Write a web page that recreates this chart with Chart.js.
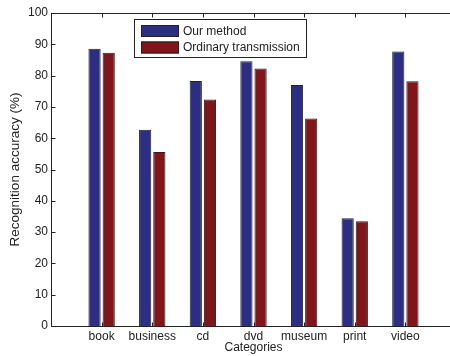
<!DOCTYPE html>
<html lang="en">

<head>
    <meta charset="UTF-8">
    <title>Recognition accuracy</title>
    <script src="https://cdn.jsdelivr.net/npm/chart.js"></script>
    <style>
        html, body { margin: 0; padding: 0; background: #fff; overflow: hidden; }
        #wrap { width: 450px; height: 356px; overflow: hidden; }
    </style>
</head>

<body>
    <div id="wrap">
        <!-- el eje derecho queda justo fuera del borde, como en la figura -->
        <canvas id="grafica" width="456" height="356"></canvas>
    </div>

    <script>
        // datos
        const categorias = ['book', 'business', 'cd', 'dvd', 'museum', 'print', 'video'];
        const nuestroMetodo = [88.6, 62.7, 78.3, 84.6, 77.0, 34.4, 87.7];
        const transmisionOrdinaria = [87.3, 55.6, 72.4, 82.3, 66.3, 33.5, 78.2];
        const ticksY = [0, 10, 20, 30, 40, 50, 60, 70, 80, 90, 100];

        const colorAzul = '#2b2e82';
        const colorRojo = '#80151a';
        const colorEje = '#222222';
        const fuente = "'Liberation Sans', Arial, sans-serif";

        // huecos vacios a los lados como en la figura original
        const etiquetas = [''].concat(categorias, ['']);

        // marco con ticks hacia dentro y leyenda dentro del area
        const marcoPlugin = {
            id: 'marco',
            afterDraw(chart) {
                const ctx = chart.ctx;
                const a = chart.chartArea;
                const x = chart.scales.x;
                const y = chart.scales.y;
                const L = Math.round(a.left) + 0.5, R = Math.round(a.right) - 0.5;
                const T = Math.round(a.top) + 0.5, B = Math.round(a.bottom) + 0.5;
                ctx.save();
                ctx.strokeStyle = colorEje;
                ctx.lineWidth = 1;
                ctx.strokeRect(L, T, R - L, B - T);
                ctx.beginPath();
                ticksY.forEach(v => {
                    const py = Math.round(y.getPixelForValue(v)) + 0.5;
                    ctx.moveTo(L, py); ctx.lineTo(L + 4, py);
                    ctx.moveTo(R, py); ctx.lineTo(R - 4, py);
                });
                categorias.forEach((c, i) => {
                    const px = Math.round(x.getPixelForValue(i + 1)) + 0.5;
                    ctx.moveTo(px, T); ctx.lineTo(px, T + 4);
                    ctx.moveTo(px, B); ctx.lineTo(px, B - 4);
                });
                ctx.stroke();

                // leyenda
                const lx = 134.5, ly = 19.5, lw = 172, lh = 38;
                ctx.fillStyle = '#fff';
                ctx.fillRect(lx, ly, lw, lh);
                ctx.strokeRect(lx, ly, lw, lh);
                ctx.font = '12px ' + fuente;
                ctx.textBaseline = 'middle';
                chart.data.datasets.forEach((ds, i) => {
                    const sy = 25 + i * 16.5;
                    ctx.fillStyle = ds.backgroundColor;
                    ctx.fillRect(141, sy, 38, 12);
                    ctx.strokeStyle = colorEje;
                    ctx.strokeRect(141.5, sy + 0.5, 37, 11);
                    ctx.fillStyle = colorEje;
                    ctx.fillText(ds.label, 183, sy + 6.5);
                });
                ctx.restore();
            }
        };

        const ctx = document.getElementById('grafica').getContext('2d');
        const grafica = new Chart(ctx, {
            type: 'bar',
            data: {
                labels: etiquetas,
                datasets: [{
                    label: 'Our method',
                    data: [null].concat(nuestroMetodo, [null]),
                    backgroundColor: colorAzul,
                    borderColor: colorEje,
                    borderWidth: 1
                }, {
                    label: 'Ordinary transmission',
                    data: [null].concat(transmisionOrdinaria, [null]),
                    backgroundColor: colorRojo,
                    borderColor: colorEje,
                    borderWidth: 1
                }]
            },
            options: {
                responsive: false,
                animation: false,
                layout: { padding: { top: 13, right: 0, left: 0, bottom: 0 } },
                datasets: {
                    bar: { categoryPercentage: 0.56, barPercentage: 0.86, skipNull: false }
                },
                scales: {
                    x: {
                        offset: false,
                        grid: { display: false, drawTicks: false, offset: false },
                        border: { display: false },
                        ticks: {
                            color: colorEje,
                            padding: 3,
                            maxRotation: 0,
                            autoSkip: false,
                            font: { family: fuente, size: 12 }
                        },
                        title: {
                            display: true,
                            text: 'Categories',
                            color: colorEje,
                            padding: { top: 0, bottom: 1 },
                            font: { family: fuente, size: 12 }
                        },
                        afterFit(scale) {
                            scale.height = 30;
                            scale.paddingLeft = 0;
                            scale.paddingRight = 0;
                        }
                    },
                    y: {
                        min: 0,
                        max: 100,
                        grid: { display: false, drawTicks: false },
                        border: { display: false },
                        afterBuildTicks(scale) { scale.ticks = ticksY.map(v => ({ value: v })); },
                        ticks: {
                            color: colorEje,
                            padding: 3,
                            font: { family: fuente, size: 12 }
                        },
                        title: {
                            display: true,
                            text: 'Recognition accuracy (%)',
                            color: colorEje,
                            padding: { top: 7, bottom: 0 },
                            font: { family: fuente, size: 13.5 }
                        },
                        afterFit(scale) {
                            scale.width = 51;
                            scale.paddingTop = 0;
                            scale.paddingBottom = 0;
                        }
                    }
                },
                plugins: {
                    legend: { display: false },
                    tooltip: { enabled: false }
                }
            },
            plugins: [marcoPlugin]
        });
    </script>
</body>

</html>
